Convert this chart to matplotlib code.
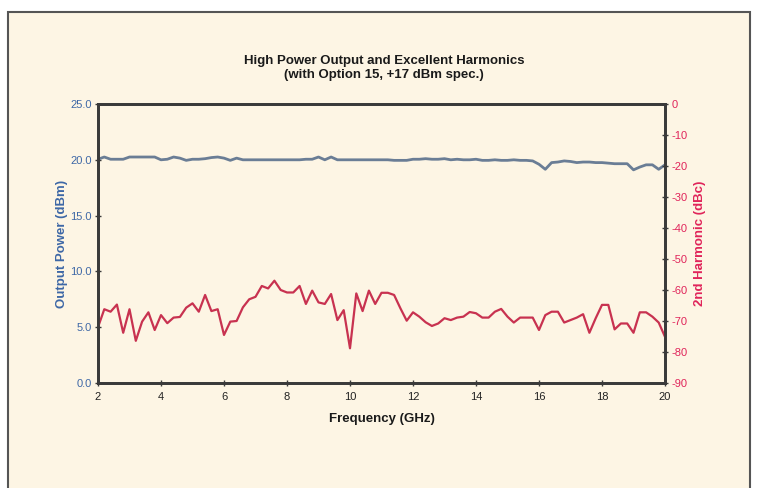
import numpy as np
import matplotlib
matplotlib.use("Agg")
import matplotlib.pyplot as plt
from matplotlib.patches import Rectangle

plt.rcParams['font.family'] = ['Liberation Sans', 'DejaVu Sans']
plt.rcParams['axes.unicode_minus'] = False

# frequency points every 0.2 GHz
freq = np.linspace(2, 20, 91)

# output power (dBm), left axis
power = [20.05, 20.25, 20.05, 20.05, 20.05, 20.25, 20.25, 20.25, 20.25, 20.25,
         20.0, 20.05, 20.25, 20.15, 19.95, 20.05, 20.05, 20.1, 20.2, 20.25,
         20.15, 19.95, 20.15, 20.0,
         20.0, 20.0, 20.0, 20.0, 20.0, 20.0, 20.0, 20.0, 20.0,
         20.05, 20.05, 20.25, 20.0, 20.25, 20.0,
         20.0, 20.0, 20.0, 20.0, 20.0, 20.0, 20.0, 20.0,
         19.95, 19.95, 19.95, 20.05, 20.05, 20.1, 20.05, 20.05, 20.1, 20.0,
         20.05, 20.0, 20.0, 20.05, 19.95, 19.95, 20.0, 19.95, 19.95, 20.0,
         19.95, 19.95, 19.9, 19.6, 19.15, 19.75, 19.8, 19.9, 19.85, 19.75,
         19.8, 19.8, 19.75, 19.75, 19.7, 19.65, 19.65, 19.65, 19.1, 19.35,
         19.55, 19.55, 19.15, 19.55]

# 2nd harmonic (dBc), right axis
harmonic = [-72.0, -66.2, -67.0, -64.7, -73.8, -66.2, -76.4, -70.2, -67.2, -72.9,
            -68.1, -70.7, -68.9, -68.7, -65.7, -64.3,
            -67.0, -61.6, -66.8, -66.2, -74.5, -70.2, -70.0, -65.6, -63.0, -62.2,
            -58.7, -59.5, -57.0, -60.0, -60.8,
            -60.8, -58.7, -64.5, -60.2, -64.0, -64.5, -61.3, -69.7, -66.5, -78.8,
            -61.1, -66.8, -60.2, -64.5, -60.9,
            -60.9, -61.6, -65.9, -69.9, -67.2, -68.6, -70.4, -71.6, -70.8, -69.1,
            -69.7, -68.9, -68.6, -67.1, -67.5,
            -68.9, -68.9, -67.0, -66.1, -68.6, -70.5, -68.9, -68.9, -68.9, -72.9,
            -68.1, -67.0, -67.0, -70.5, -69.7, -68.9, -67.8, -73.8, -69.1, -64.8,
            -64.8, -72.7, -70.8, -70.8, -73.8, -67.2, -67.2, -68.6, -70.5, -75.1]

xticks = [2, 4, 6, 8, 10, 12, 14, 16, 18, 20]
left_ticks = [0, 5, 10, 15, 20, 25]
right_ticks = [0, -10, -20, -30, -40, -50, -60, -70, -80, -90]

cream = '#fdf5e4'
blue_line = '#6a7d95'
red_line = '#c83250'
blue_text = '#3d67a6'
red_text = '#e0245a'
dark = '#3a3a3a'

fig = plt.figure(figsize=(7.57, 4.88), dpi=100)
fig.patch.set_facecolor('white')
# cream panel with border, drawn behind the axes
panel = Rectangle((8 / 757, -0.1), 742 / 757, 1.1 - 12 / 488,
                  transform=fig.transFigure, facecolor=cream,
                  edgecolor='#555555', linewidth=1.5, zorder=-10)
fig.patches.append(panel)

ax = fig.add_axes([98 / 757, 105 / 488, 567 / 757, 279 / 488])
ax.patch.set_alpha(0)
ax2 = ax.twinx()

ax.plot(freq, power, color=blue_line, lw=2.0)
ax2.plot(freq, harmonic, color=red_line, lw=1.6)

ax.set_xlim(2, 20)
ax.set_ylim(0, 25)
ax2.set_ylim(-90, 0)

ax.set_xticks(xticks)
ax.set_yticks(left_ticks)
ax.set_yticklabels([f'{v:.1f}' for v in left_ticks])
ax2.set_yticks(right_ticks)

for a in (ax, ax2):
    for s in a.spines.values():
        s.set_color(dark)
        s.set_linewidth(2)

ax.tick_params(axis='x', direction='inout', length=5, width=1, color=dark,
               labelsize=8, labelcolor='#222222', pad=4)
ax.tick_params(axis='y', direction='inout', length=5, width=1, color=dark,
               labelsize=8, labelcolor=blue_text, pad=2)
ax2.tick_params(axis='y', direction='inout', length=5, width=1, color=dark,
                labelsize=8, labelcolor=red_text, pad=2)

ax.set_xlabel('Frequency (GHz)', fontsize=9.5, fontweight='bold', color='#1a1a1a')
ax.set_ylabel('Output Power (dBm)', fontsize=9.5, fontweight='bold', color=blue_text)
ax2.set_ylabel('2nd Harmonic (dBc)', fontsize=9.5, fontweight='bold', color=red_text)
ax.xaxis.set_label_coords(0.5, -0.108)
ax.yaxis.set_label_coords(-0.053, 0.5)
ax2.yaxis.set_label_coords(1.051, 0.5)

fig.text(384 / 757, 1 - 61 / 488, 'High Power Output and Excellent Harmonics',
         ha='center', va='center', fontsize=9.5, fontweight='bold', color='#1a1a1a')
fig.text(384 / 757, 1 - 75 / 488, '(with Option 15, +17 dBm spec.)',
         ha='center', va='center', fontsize=9.5, fontweight='bold', color='#1a1a1a')

fig.savefig('out.png', dpi=100, facecolor=fig.get_facecolor())
